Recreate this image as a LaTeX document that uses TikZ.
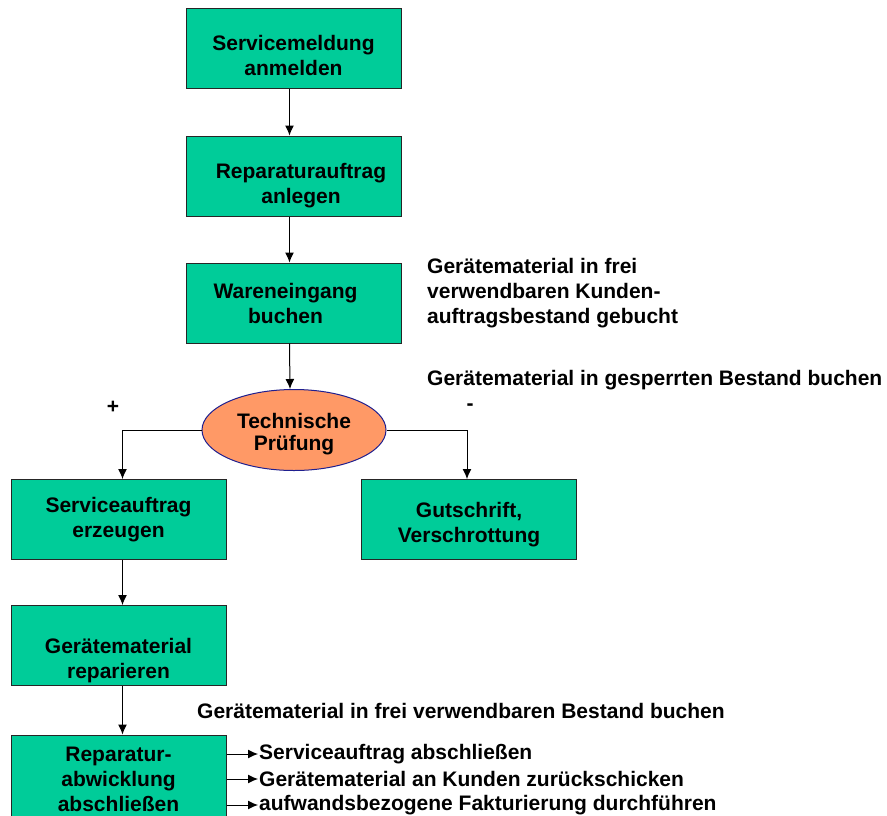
\documentclass[tikz,border=0pt]{standalone}
\usepackage{fontspec}
\setmainfont{Liberation Sans}
\usetikzlibrary{arrows.meta,shapes.geometric}
\definecolor{boxgreen}{HTML}{00CC99}
\definecolor{ovalorange}{HTML}{FF9966}
\definecolor{ovalblue}{HTML}{1F1F8F}
\newcommand{\lift}[1]{\rule{0pt}{#1}}

\begin{document}
\begin{tikzpicture}[x=1pt,y=-1pt,
	every node/.style={font=\fontsize{21}{25}\selectfont\bfseries},
	box/.style={draw=black!85,line width=1pt,fill=boxgreen,minimum width=215pt,minimum height=80pt,align=center,inner sep=0pt},
	oval/.style={ellipse,draw=ovalblue,line width=1pt,fill=ovalorange,minimum width=184pt,minimum height=81pt,align=center,inner sep=0pt,font=\fontsize{21}{22}\selectfont\bfseries},
	note/.style={align=left,inner sep=1pt},
	arr/.style={line width=1pt,-{Latex[length=10pt,width=9pt]}}]
	\useasboundingbox (0,0) rectangle (887,815);
	% main column
	\node[box] (meld) at (293.5,48) {\lift{31pt}Servicemeldung\\anmelden};
	\node[box] (rauf) at (293.5,176) {\lift{35pt}\hspace*{15pt}Reparaturauftrag\\\hspace*{15pt}anlegen};
	\node[box] (wein) at (293.5,303) {Wareneingang\hspace*{16pt}\\buchen\hspace*{16pt}};
	\node[oval] (pruef) at (294,430) {\lift{24pt}Technische\\Prüfung};
	\node[box] (sauf) at (118.5,519.5) {Serviceauftrag\\erzeugen};
	\node[box] (gut) at (469,519.5) {\lift{25pt}Gutschrift,\\Verschrottung};
	\node[box] (repa) at (118.5,645.5) {\lift{45pt}Gerätematerial\\reparieren};
	\node[box,minimum height=88pt] (abw) at (118.5,779) {Reparatur-\\abwicklung\\abschließen};
	% labels
	\node at (113,407) {+};
	\node at (470,407) {-};
	\node[note,anchor=west] (txfrei) at (426,293) {Gerätematerial in frei\\verwendbaren Kunden-\\auftragsbestand gebucht};
	\node[note,anchor=west] (txsperr) at (426,380) {Gerätematerial in gesperrten Bestand buchen};
	\node[note,anchor=west] (txbest) at (196,711) {Gerätematerial in frei verwendbaren Bestand buchen};
	\node[note,anchor=west] (txs1) at (258,754) {Serviceauftrag abschließen};
	\node[note,anchor=west] (txs2) at (258,779) {Gerätematerial an Kunden zurückschicken};
	\node[note,anchor=west] (txs3) at (258,805) {aufwandsbezogene Fakturierung durchführen};
	% connectors
	\draw[arr] ([xshift=-4pt]meld.south) -- ([xshift=-4pt]rauf.north);
	\draw[arr] ([xshift=-4pt]rauf.south) -- ([xshift=-4pt]wein.north);
	\draw[arr] ([xshift=-4pt]wein.south) -- ([xshift=-4pt]pruef.north);
	\draw[arr] (pruef.west) -| ([xshift=4pt]sauf.north);
	\draw[arr] (pruef.east) -| ([xshift=-2pt]gut.north);
	\draw[arr] ([xshift=4pt]sauf.south) -- ([xshift=4pt]repa.north);
	\draw[arr] ([xshift=4pt]repa.south) -- ([xshift=4pt]abw.north);
	\draw[arr] (abw.east |- txs1.west) -- (txs1.west);
	\draw[arr] (abw.east |- txs2.west) -- (txs2.west);
	\draw[arr] (abw.east |- txs3.west) -- (txs3.west);
\end{tikzpicture}
\end{document}
